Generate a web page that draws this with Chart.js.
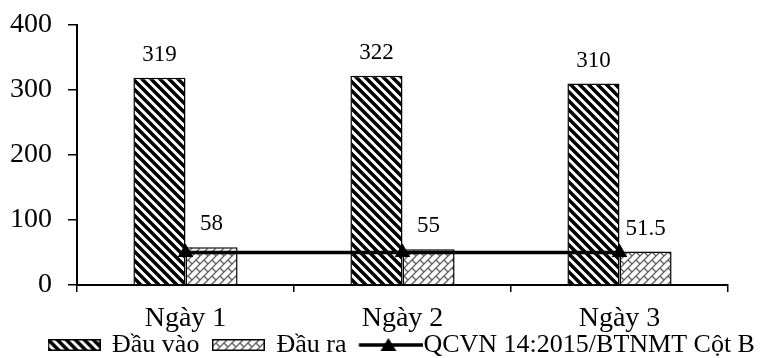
<!DOCTYPE html>
<html>
<head>
<meta charset="utf-8">
<script src="https://cdn.jsdelivr.net/npm/chart.js@4"></script>
<style>
  html, body { margin: 0; padding: 0; background: #fff; }
  #wrap { width: 762px; height: 358px; }
</style>
</head>
<body>
<div id="wrap"><canvas id="chart" width="762" height="358"></canvas></div>
<script>
// du lieu doc tu hinh
const categories = ['Ngày 1', 'Ngày 2', 'Ngày 3'];
const dauVao = [319, 322, 310];
const dauRa = [58, 55, 51.5];
const quyChuan = [50, 50, 50];
const seriesNames = ['Đầu vào', 'Đầu ra', 'QCVN 14:2015/BTNMT Cột B'];
const yTicks = [0, 100, 200, 300, 400];

const FONT = 'Liberation Serif';

// hoa van soc cheo den
function stripePattern() {
    const c = document.createElement('canvas');
    c.width = 9; c.height = 9;
    const g = c.getContext('2d');
    g.fillStyle = '#fff';
    g.fillRect(0, 0, 9, 9);
    g.strokeStyle = '#000';
    g.lineWidth = 3.5;
    g.beginPath();
    for (let k = -9; k <= 9; k += 9) {
        g.moveTo(k - 2, -2);
        g.lineTo(k + 11, 11);
    }
    g.stroke();
    return g.createPattern(c, 'repeat');
}

// hoa van gach cheo xam
function hatchPattern() {
    const c = document.createElement('canvas');
    c.width = 8; c.height = 8;
    const g = c.getContext('2d');
    g.fillStyle = '#fff';
    g.fillRect(0, 0, 8, 8);
    g.strokeStyle = '#5e5e5e';
    g.lineWidth = 1.3;
    g.beginPath();
    g.moveTo(-1, 9); g.lineTo(9, -1);
    g.moveTo(-1, 1); g.lineTo(1, -1);
    g.moveTo(7, 9); g.lineTo(9, 7);
    g.moveTo(4, 4); g.lineTo(8, 8);
    g.stroke();
    return g.createPattern(c, 'repeat');
}

const stripes = stripePattern();
const hatch = hatchPattern();

function legendBox(fill) {
    const c = document.createElement('canvas');
    c.width = 53; c.height = 12;
    const g = c.getContext('2d');
    g.fillStyle = fill;
    g.fillRect(0, 0, 53, 12);
    g.strokeStyle = '#000';
    g.lineWidth = 1.5;
    g.strokeRect(0.75, 0.75, 51.5, 10.5);
    return c;
}

// anh chu thich duong: tam anh o giua o 50px, duong keo toi sat chu
function legendLine() {
    const c = document.createElement('canvas');
    c.width = 76; c.height = 16;
    const g = c.getContext('2d');
    g.strokeStyle = '#000';
    g.lineWidth = 3.5;
    g.beginPath();
    g.moveTo(11.5, 8); g.lineTo(76, 8);
    g.stroke();
    g.fillStyle = '#000';
    g.beginPath();
    g.moveTo(41, 1); g.lineTo(49, 14); g.lineTo(33, 14);
    g.closePath();
    g.fill();
    return c;
}

const legendIcons = [legendBox(stripes), legendBox(hatch), legendLine()];

// ve nhan gia tri tren cot
const valueLabels = {
    id: 'valueLabels',
    afterLayout(chart) {
        // chu thich lech phai va sat len nhan truc nhu hinh goc
        const lg = chart.legend;
        lg.left += 21; lg.right += 21;
        lg.top -= 17; lg.bottom -= 17;
    },
    afterDatasetsDraw(chart) {
        const ctx = chart.ctx;
        ctx.save();
        ctx.font = '23px "' + FONT + '"';
        ctx.fillStyle = '#000';
        ctx.textAlign = 'center';
        ctx.textBaseline = 'alphabetic';
        [1, 2].forEach(di => {
            const ds = chart.data.datasets[di];
            chart.getDatasetMeta(di).data.forEach((bar, i) => {
                ctx.fillText(String(ds.data[i]), bar.x, bar.y - 17);
            });
        });
        ctx.restore();
    }
};

new Chart(document.getElementById('chart'), {
    type: 'bar',
    data: {
        labels: categories,
        datasets: [
            {
                type: 'line',
                label: seriesNames[2],
                data: quyChuan,
                borderColor: '#000',
                borderWidth: 3.5,
                backgroundColor: '#000',
                pointStyle: 'triangle',
                pointRadius: 9,
                pointBackgroundColor: '#000',
                pointBorderWidth: 0,
                order: 0
            },
            {
                label: seriesNames[0],
                data: dauVao,
                backgroundColor: stripes,
                borderColor: '#000',
                borderWidth: 1.5,
                categoryPercentage: 0.48,
                barPercentage: 1,
                order: 1
            },
            {
                label: seriesNames[1],
                data: dauRa,
                backgroundColor: hatch,
                borderColor: '#000',
                borderWidth: 1.5,
                categoryPercentage: 0.48,
                barPercentage: 1,
                order: 1
            }
        ]
    },
    options: {
        responsive: false,
        animation: false,
        layout: { padding: { left: 0, right: 0, top: 25, bottom: -27 } },
        plugins: {
            tooltip: { enabled: false },
            legend: {
                position: 'bottom',
                labels: {
                    usePointStyle: true,
                    pointStyleWidth: 50,
                    padding: 14,
                    color: '#000',
                    font: { family: FONT, size: 26 },
                    generateLabels: () => [0, 1, 2].map(i => ({
                        text: seriesNames[i],
                        pointStyle: legendIcons[i],
                        fillStyle: '#000',
                        strokeStyle: '#000',
                        lineWidth: 0,
                        hidden: false,
                        datasetIndex: i
                    }))
                }
            }
        },
        scales: {
            x: {
                grid: { display: true, drawOnChartArea: false, drawTicks: true, tickLength: 7, color: '#000', lineWidth: 1.5 },
                border: { display: true, color: '#000', width: 2 },
                ticks: { color: '#000', font: { family: FONT, size: 28 }, padding: 10 },
                afterFit: s => { s.height = 50; }
            },
            y: {
                min: 0,
                max: 400,
                grid: { display: true, drawOnChartArea: false, drawTicks: true, tickLength: 9, color: '#000', lineWidth: 1.5 },
                border: { display: true, color: '#000', width: 2 },
                ticks: {
                    color: '#000',
                    font: { family: FONT, size: 28 },
                    padding: 16,
                    stepSize: 100,
                    callback: v => yTicks.includes(v) ? v : ''
                },
                afterFit: s => { s.width = 77; s.paddingTop = 0; s.paddingBottom = 0; }
            },
            // truc phu ben phai chi de giu le
            yPad: {
                position: 'right',
                display: true,
                grid: { display: false },
                border: { display: false },
                ticks: { display: false },
                afterFit: s => { s.width = 34; s.paddingTop = 0; s.paddingBottom = 0; }
            }
        }
    },
    plugins: [valueLabels]
});
</script>
</body>
</html>
